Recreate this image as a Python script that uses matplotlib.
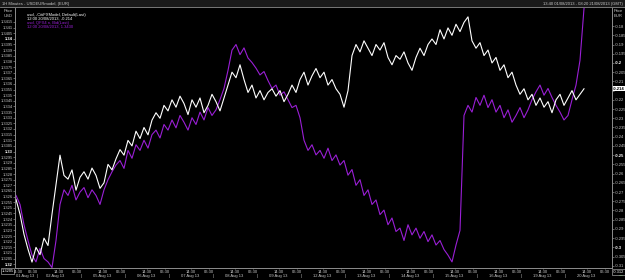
import matplotlib
matplotlib.use("Agg")
import matplotlib.pyplot as plt
from matplotlib.patches import Rectangle

plt.rcParams['font.family'] = ['Liberation Sans', 'DejaVu Sans']
plt.rcParams['axes.unicode_minus'] = False

# white line, right axis (EUR model)
model = [
    -0.274, -0.282, -0.293, -0.301, -0.308, -0.300, -0.304, -0.295, -0.299, -0.282,
    -0.266, -0.250, -0.261, -0.263, -0.258, -0.269, -0.262, -0.259, -0.263, -0.257,
    -0.261, -0.268, -0.265, -0.255, -0.258, -0.252, -0.247, -0.250, -0.242, -0.245,
    -0.237, -0.241, -0.235, -0.239, -0.231, -0.227, -0.230, -0.223, -0.226, -0.220,
    -0.224, -0.218, -0.222, -0.228, -0.220, -0.224, -0.219, -0.227, -0.223, -0.217,
    -0.221, -0.226, -0.219, -0.212, -0.205, -0.208, -0.201, -0.209, -0.216, -0.212,
    -0.219, -0.215, -0.220, -0.216, -0.214, -0.218, -0.215, -0.221, -0.217, -0.212,
    -0.216, -0.209, -0.205, -0.212, -0.207, -0.203, -0.208, -0.205, -0.212, -0.209,
    -0.214, -0.217, -0.224, -0.215, -0.196, -0.190, -0.194, -0.188, -0.192, -0.196,
    -0.190, -0.193, -0.189, -0.197, -0.201, -0.196, -0.198, -0.194, -0.200, -0.204,
    -0.197, -0.192, -0.196, -0.190, -0.187, -0.190, -0.182, -0.187, -0.181, -0.185,
    -0.179, -0.183, -0.178, -0.175, -0.188, -0.192, -0.189, -0.196, -0.193, -0.200,
    -0.197, -0.204, -0.201, -0.208, -0.205, -0.212, -0.217, -0.214, -0.220, -0.217,
    -0.223, -0.219, -0.224, -0.221, -0.227, -0.220, -0.217, -0.223, -0.219, -0.215,
    -0.220, -0.217, -0.214,
]

# purple line, left axis (EUR/USD)
eurusd = [
    1.3261, 1.3253, 1.3235, 1.3221, 1.3208, 1.3202, 1.3214, 1.3205, 1.3202, 1.3197,
    1.3221, 1.3253, 1.3266, 1.3261, 1.3270, 1.3257, 1.3264, 1.3268, 1.3259, 1.3266,
    1.3261, 1.3253, 1.3266, 1.3275, 1.3282, 1.3288, 1.3292, 1.3285, 1.3301, 1.3294,
    1.3306, 1.3301, 1.3310, 1.3303, 1.3315, 1.3319, 1.3312, 1.3324, 1.3319, 1.3328,
    1.3321, 1.3332, 1.3326, 1.3319, 1.3330, 1.3324, 1.3335, 1.3328, 1.3339, 1.3332,
    1.3337, 1.3346, 1.3356, 1.3372, 1.3390, 1.3395, 1.3386, 1.3392, 1.3383, 1.3379,
    1.3374, 1.3368, 1.3371, 1.3363, 1.3356, 1.3359, 1.3350, 1.3353, 1.3346, 1.3339,
    1.3341, 1.3330, 1.3310, 1.3301, 1.3306, 1.3297, 1.3301, 1.3294, 1.3303, 1.3292,
    1.3297, 1.3288, 1.3292, 1.3279, 1.3284, 1.3270, 1.3275, 1.3261, 1.3266, 1.3253,
    1.3257, 1.3244, 1.3248, 1.3235, 1.3241, 1.3229, 1.3232, 1.3221, 1.3235, 1.3226,
    1.3232, 1.3223, 1.3229, 1.3220, 1.3226, 1.3217, 1.3221, 1.3213, 1.3208, 1.3202,
    1.3217, 1.3230, 1.3332, 1.3341, 1.3335, 1.3348, 1.3341, 1.3350, 1.3339, 1.3346,
    1.3335, 1.3341, 1.3330, 1.3337, 1.3326, 1.3332, 1.3339, 1.3330, 1.3337, 1.3346,
    1.3353, 1.3359, 1.3350, 1.3356, 1.3348, 1.3341, 1.3335, 1.3328, 1.3332, 1.3346,
    1.3359, 1.3381, 1.3427,
]

days = ["01 Aug 13", "02 Aug 13", "05 Aug 13", "06 Aug 13", "07 Aug 13",
        "08 Aug 13", "09 Aug 13", "12 Aug 13", "13 Aug 13", "14 Aug 13",
        "15 Aug 13", "16 Aug 13", "19 Aug 13", "20 Aug 13"]

left_ticks = [round(1.32 + 0.0005 * k, 4) for k in range(44)]
right_ticks = [round(-0.31 + 0.005 * k, 3) for k in range(27)]

W, H = 625, 280
GREY = '#8c8c8c'
LBL = '#c8c8c8'
PURPLE = '#9a1fd6'

fig = plt.figure(figsize=(6.25, 2.8), dpi=100, facecolor='black')
ax = fig.add_axes([15 / W, 1 - 268 / H, (612 - 15) / W, (268 - 8) / H])
ax.set_facecolor('black')
ax2 = ax.twinx()

x = list(range(len(model)))
ax.plot(x, eurusd, color=PURPLE, lw=0.8)
ax2.plot(x, model, color='white', lw=0.8)

ax.set_xlim(-0.25, 149)
ax.set_ylim(1.31966, 1.34274)
ax2.set_ylim(-0.3112, -0.1702)

for a in (ax, ax2):
    for s in a.spines.values():
        s.set_color(GREY)
        s.set_linewidth(0.6)
    a.spines['top'].set_visible(False)

# y ticks
ax.set_yticks(left_ticks)
ax.set_yticklabels(['%g' % v for v in left_ticks])
ax.tick_params(axis='y', colors=GREY, length=1.2, width=0.5, pad=0.3,
               labelsize=2.9, labelcolor=LBL)
for t, v in zip(ax.get_yticklabels(), left_ticks):
    if abs(v * 100 - round(v * 100)) < 1e-6:
        t.set_color('white')
        t.set_fontweight('bold')

# the last-value box covers the nearest right label
right_lbls = ['' if abs(v - model[-1]) < 0.003 else '%g' % v for v in right_ticks]
ax2.set_yticks(right_ticks)
ax2.set_yticklabels(right_lbls)
ax2.tick_params(axis='y', colors=GREY, length=1.5, width=0.5, pad=0.4,
                labelsize=3.0, labelcolor=LBL)
for t, v in zip(ax2.get_yticklabels(), right_ticks):
    if abs(v * 20 - round(v * 20)) < 1e-6:
        t.set_color('white')
        t.set_fontweight('bold')

# x ticks: session times, then dates below
t1430 = [0.5] + [11 * d - 0.25 for d in range(1, 14)]
t0630 = [11 * d + 4.25 for d in range(14)]
xt = sorted(t1430 + t0630)
ax.set_xticks(xt)
ax.set_xticklabels(['14:30' if p in t1430 else '06:30' for p in xt])
ax.tick_params(axis='x', colors=GREY, length=1, width=0.5, pad=0.3,
               labelsize=3.0, labelcolor=LBL)

date_pos = [2.25, 9.75] + [11 * d - 0.5 for d in range(2, 14)]
for p, d in zip(date_pos, days):
    ax.text(p, -0.031, d, transform=ax.get_xaxis_transform(), ha='center',
            va='center', fontsize=3.0, color=LBL, clip_on=False)
for d in range(13):
    ax.text(11 * d + 5.4, -0.031, '|', transform=ax.get_xaxis_transform(),
            ha='center', va='center', fontsize=3.0, color=LBL, clip_on=False)

# header bar
fig.patches.append(Rectangle((0, 1 - 7 / H), 1, 7 / H, transform=fig.transFigure,
                             facecolor='#1a1a1a', edgecolor='none'))
fig.lines.append(plt.Line2D([0, 1], [1 - 7 / H, 1 - 7 / H], transform=fig.transFigure,
                            color=GREY, lw=0.6))
fig.text(2 / W, 1 - 3.5 / H, '1H Minutes - USDEURmodel, (EUR)', fontsize=3.0,
         color=LBL, va='center', ha='left')
fig.text(623 / W, 1 - 3.5 / H, '13:40 01/08/2013 - 08:20 21/08/2013 (GMT)',
         fontsize=3.0, color=LBL, va='center', ha='right')
fig.text(13 / W, 1 - 11 / H, 'Price', fontsize=3.0, color=LBL, ha='right', va='center')
fig.text(13 / W, 1 - 16 / H, 'USD', fontsize=3.0, color=LBL, ha='right', va='center')
fig.text(614 / W, 1 - 11 / H, 'Price', fontsize=3.0, color=LBL, ha='left', va='center')
fig.text(614 / W, 1 - 16 / H, 'EUR', fontsize=3.0, color=LBL, ha='left', va='center')

# legend lines
leg = [("usd, -CitiFXModel, Default(Last)", 'white'),
       ("12:00 20/08/2013, -0.214", 'white'),
       ("usd, QFX4 n, Bid(Last)", PURPLE),
       ("12:00 20/08/2013, 1.3430", PURPLE)]
for k, (s, c) in enumerate(leg):
    fig.text(27 / W, 1 - (15 + 4 * k) / H, s, fontsize=3.0, color=c, va='center')

# last value boxes
ax2.text(1.002, model[-1], '%.3f' % model[-1], transform=ax2.get_yaxis_transform(),
         fontsize=3.0, color='black', va='center', ha='left', fontweight='bold',
         bbox=dict(boxstyle='square,pad=0.15', fc='white', ec='none'), clip_on=False)
fig.text(1.5 / W, 1 - 271 / H, '1.3205', fontsize=2.9, color='white', va='center',
         bbox=dict(boxstyle='square,pad=0.15', fc='black', ec=LBL, lw=0.4))
fig.text(613 / W, 1 - 272 / H, '-0.312', fontsize=2.9, color='white', va='center',
         bbox=dict(boxstyle='square,pad=0.15', fc='black', ec=LBL, lw=0.4))
fig.patches.append(plt.Circle((621 / W, 1 - 275 / H), 2.2 / W, transform=fig.transFigure,
                              facecolor='#30c030', edgecolor='none'))

fig.savefig('out.png', dpi=100, facecolor='black')
